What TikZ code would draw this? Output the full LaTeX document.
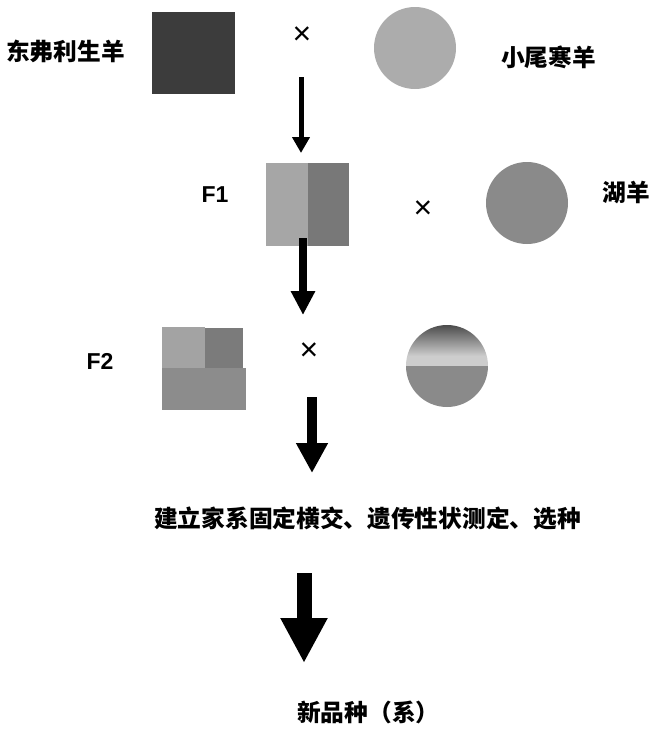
\documentclass[tikz,border=0pt]{standalone}
\usepackage{fontspec}
\setsansfont{Liberation Sans}
\newfontfamily\cjk{Noto Sans CJK SC}
\usetikzlibrary{arrows.meta,positioning}
\definecolor{sheepdark}{RGB}{60,60,60}
\definecolor{sheeplight}{RGB}{172,172,172}
\definecolor{fonelight}{RGB}{166,166,166}
\definecolor{fonedark}{RGB}{120,120,120}
\definecolor{sheephu}{RGB}{138,138,138}
\definecolor{ftwolight}{RGB}{163,163,163}
\definecolor{ftwodark}{RGB}{123,123,123}
\definecolor{ftwomid}{RGB}{140,140,140}
\definecolor{gradtop}{RGB}{72,72,72}
\definecolor{gradpale}{RGB}{205,205,205}

\begin{document}
\begin{tikzpicture}[x=1pt,y=-1pt,
  cjklab/.style={font=\fontsize{23.7}{23.7}\selectfont\cjk\bfseries,inner sep=0pt},
  flab/.style={font=\fontsize{23}{23}\selectfont\sffamily\bfseries,inner sep=0pt},
  cross/.style={font=\fontsize{32}{32}\selectfont\sffamily,inner sep=0pt},
  blk/.style={inner sep=0pt,outer sep=0pt},
  down/.style n args={3}{line width=#1,-{Triangle[width=#2,length=#3]}}]
\useasboundingbox (0,0) rectangle (660,731);
% parents
\node[cjklab,anchor=west] (dfl) at (6,51.5) {东弗利生羊};
\node[blk,fill=sheepdark,minimum width=83pt,minimum height=82pt] (p1) at (193.5,53) {};
\node[cross] (x1) at (302,36) {×};
\node[blk,circle,fill=sheeplight,minimum size=82pt] (p2) at (415,48) {};
\node[cjklab] (xwh) at (548.5,57) {小尾寒羊};
% F1 x hu sheep
\node[flab] (f1) at (215,194.5) {F1};
\node[blk,fill=fonelight,minimum width=42pt,minimum height=83pt] (f1a) at (287,204.5) {};
\node[blk,fill=fonedark,minimum width=41pt,minimum height=83pt,right=0pt of f1a] (f1b) {};
\node[cross] (x2) at (423,210) {×};
\node[blk,circle,fill=sheephu,minimum size=82pt] (hu) at (527,203) {};
\node[cjklab] (hulab) at (626,193) {湖羊};
% F2
\node[flab] (f2) at (100,361) {F2};
\node[blk,fill=ftwolight,minimum width=43pt,minimum height=41pt] (f2a) at (183.5,347.5) {};
\node[blk,fill=ftwodark,minimum width=38pt,minimum height=40pt,right=0pt of f2a] (f2b) {};
\node[blk,fill=ftwomid,minimum width=84pt,minimum height=42pt] (f2c) at (204,389) {};
\node[cross] (x3) at (309,352) {×};
\node[blk,circle,minimum size=82pt] (c3) at (447,366) {};
\begin{scope}
\clip (c3.center) circle (41);
\fill[sheephu] (405,366) rectangle (489,408);
\shade[top color=gradtop,bottom color=gradpale] (405,324) rectangle (489,356);
\fill[gradpale] (405,356) rectangle (489,366);
\end{scope}
% steps
\node[cjklab,anchor=west] (step) at (154,518) {建立家系固定横交、遗传性状测定、选种};
\node[cjklab,anchor=west] (newbreed) at (297,712) {新品种（系）};
% arrows
\coordinate (a1s) at (301,77);
\coordinate (a1e) at (301,153);
\coordinate (a2s) at (303,238);
\coordinate (a2e) at (303,315);
\coordinate (a3s) at (312,397);
\coordinate (a3e) at (312,473);
\coordinate (a4s) at (304,573);
\coordinate (a4e) at (304,663);
\draw[down={5pt}{17pt}{16pt}] (a1s) -- (a1e);
\draw[down={8pt}{23pt}{24pt}] (a2s) -- (a2e);
\draw[down={10pt}{30pt}{30pt}] (a3s) -- (a3e);
\draw[down={15pt}{44pt}{45pt}] (a4s) -- (a4e);
\end{tikzpicture}
\end{document}
